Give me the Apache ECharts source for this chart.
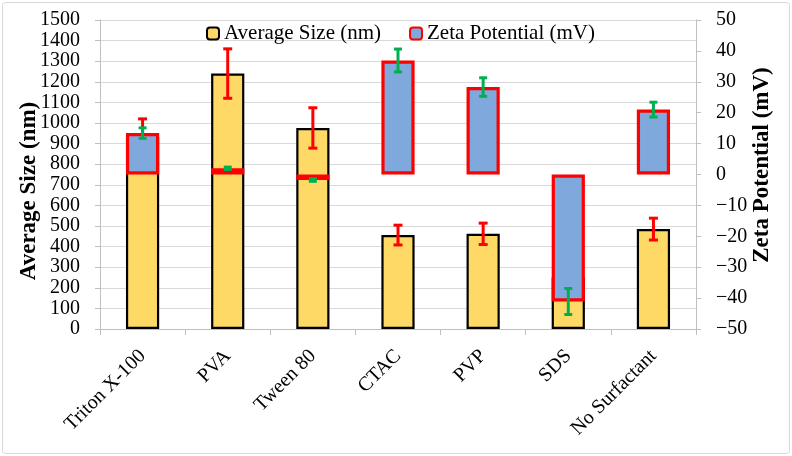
<!DOCTYPE html>
<html>
<head>
<meta charset="utf-8">
<script src="https://cdn.jsdelivr.net/npm/echarts@6/dist/echarts.min.js"></script>
<style>
  html, body { margin: 0; padding: 0; background: #fff; }
  #main { width: 792px; height: 456px; }
</style>
</head>
<body>
<div id="main"></div>
<script>
// data (SDS size is hidden behind its zeta bar, estimated)
var categories = ['Triton X-100', 'PVA', 'Tween 80', 'CTAC', 'PVP', 'SDS', 'No Surfactant'];
var sizeValues = [930, 1240, 976, 456, 462, 250, 485];     // nm
var sizeErrors = [90, 120, 98, 48, 52, 40, 53];
var zetaValues = [13.4, 2.0, -1.8, 36.9, 28.3, -41.1, 21.0]; // mV
var zetaErrors = [1.7, 0.4, 0.4, 3.7, 3.0, 4.2, 2.4];
var sizeTicks = { min: 0, max: 1500, step: 100 };
var zetaTicks = { min: -50, max: 50, step: 10 };

var FONT = 'Liberation Serif';

// error bar rows: [categoryIndex, low, high]
function errRows(vals, errs) {
    var rows = [];
    for (var i = 0; i < vals.length; i++) {
        rows.push([i, vals[i] - errs[i], vals[i] + errs[i]]);
    }
    return rows;
}

function errRender(capHalf, color) {
    return function (params, api) {
        var top = api.coord([api.value(0), api.value(2)]);
        var bot = api.coord([api.value(0), api.value(1)]);
        var st = { stroke: color, lineWidth: 3 };
        return {
            type: 'group',
            children: [
                { type: 'line', shape: { x1: top[0], y1: top[1], x2: bot[0], y2: bot[1] }, style: st },
                { type: 'line', shape: { x1: top[0] - capHalf, y1: top[1], x2: top[0] + capHalf, y2: top[1] }, style: st },
                { type: 'line', shape: { x1: bot[0] - capHalf, y1: bot[1], x2: bot[0] + capHalf, y2: bot[1] }, style: st }
            ]
        };
    };
}

// axis titles as rotated text (read bottom to top)
function axisTitle(text, cx, cy) {
    return {
        type: 'text', x: cx, y: cy, rotation: Math.PI / 2, silent: true,
        style: {
            text: text, align: 'center', verticalAlign: 'middle',
            fontFamily: FONT, fontSize: 23, fontWeight: 'bold', fill: '#000'
        }
    };
}

var chart = echarts.init(document.getElementById('main'));

chart.setOption({
    backgroundColor: '#fff',
    animation: false,
    graphic: [{
        type: 'rect',
        shape: { x: 2.5, y: 2.5, width: 787, height: 451, r: 3 },
        style: { fill: 'none', stroke: '#d9d9d9', lineWidth: 1 },
        silent: true
    },
        axisTitle('Average Size (nm)', 29, 191),
        axisTitle('Zeta Potential (mV)', 762, 165)
    ],
    grid: { left: 100, right: 96, top: 20, bottom: 127 },
    legend: {
        left: 201, top: 18,
        itemWidth: 12, itemHeight: 12, itemGap: 28,
        textStyle: { fontFamily: FONT, fontSize: 21, color: '#000' },
        data: ['Average Size (nm)', 'Zeta Potential (mV)']
    },
    xAxis: {
        type: 'category',
        data: categories,
        axisLine: { lineStyle: { color: '#bfbfbf', width: 1 } },
        axisTick: { show: true, length: 6, lineStyle: { color: '#bfbfbf' } },
        axisLabel: {
            rotate: 45, margin: 24, interval: 0,
            fontFamily: FONT, fontSize: 20, color: '#000'
        }
    },
    yAxis: [{
        type: 'value',
        min: sizeTicks.min, max: sizeTicks.max, interval: sizeTicks.step,
        axisLine: { show: true, lineStyle: { color: '#bfbfbf' } },
        axisTick: { show: true, length: 5, lineStyle: { color: '#bfbfbf' } },
        axisLabel: {
            fontFamily: FONT, fontSize: 20, color: '#000', margin: 20,
            formatter: function (v) { return String(v); }
        },
        splitLine: { lineStyle: { color: '#d9d9d9', width: 1 } }
    }, {
        type: 'value',
        min: zetaTicks.min, max: zetaTicks.max, interval: zetaTicks.step,
        axisLine: { show: true, lineStyle: { color: '#bfbfbf' } },
        axisTick: { show: true, length: 5, lineStyle: { color: '#bfbfbf' } },
        axisLabel: {
            fontFamily: FONT, fontSize: 20, color: '#000', margin: 20,
            formatter: function (v) { return String(v).replace('-', '\u2212'); }
        },
        splitLine: { show: false }
    }],
    series: [{
        name: 'Average Size (nm)',
        type: 'bar',
        yAxisIndex: 0,
        barWidth: '39%',
        barGap: '-100%',
        z: 2,
        itemStyle: { color: '#FFD966', borderColor: '#000', borderWidth: 2.2 },
        data: sizeValues
    }, {
        type: 'custom',
        yAxisIndex: 0,
        z: 3,
        renderItem: errRender(4.5, '#FF0000'),
        encode: { x: 0, y: [1, 2] },
        data: errRows(sizeValues, sizeErrors)
    }, {
        name: 'Zeta Potential (mV)',
        type: 'bar',
        yAxisIndex: 1,
        barWidth: '39%',
        barGap: '-100%',
        z: 4,
        itemStyle: { color: '#7FA8DC', borderColor: '#FF0000', borderWidth: 3.2 },
        data: zetaValues
    }, {
        type: 'custom',
        yAxisIndex: 1,
        z: 5,
        renderItem: errRender(4, '#00B050'),
        encode: { x: 0, y: [1, 2] },
        data: errRows(zetaValues, zetaErrors)
    }]
});
</script>
</body>
</html>
